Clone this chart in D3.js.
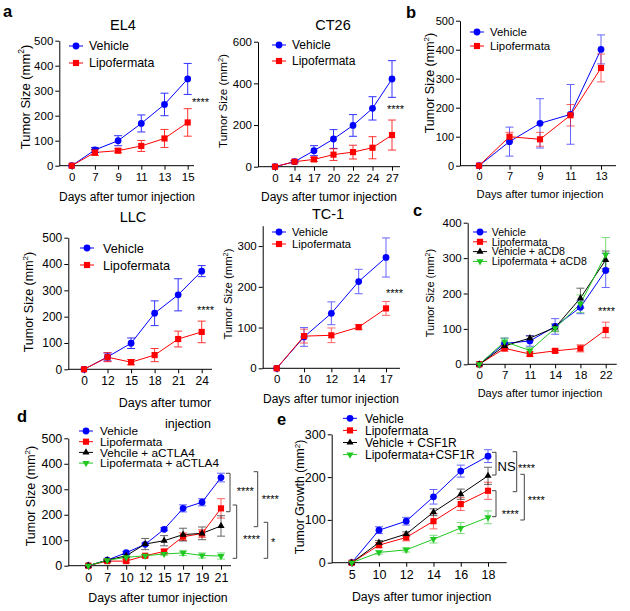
<!DOCTYPE html>
<html>
<head>
<meta charset="utf-8">
<script src="https://cdn.jsdelivr.net/npm/d3@7"></script>
<style>
  body { margin: 0; background: #fff; }
  svg text { font-family: "Liberation Sans", Arial, Helvetica, sans-serif; fill: #000; }
</style>
</head>
<body>
<svg id="fig" width="630" height="611"></svg>
<script>
// ---- data ----
const el4Days = ["0", "7", "9", "11", "13", "15"];
const el4Veh = [0, 63, 100, 169, 245, 347];
const el4VehErr = [0, 10, 20, 34, 45, 62];
const el4Lipo = [0, 53, 60, 79, 109, 173];
const el4LipoErr = [0, 12, 8, 22, 36, 55];

const ct26Days = ["0", "14", "17", "20", "22", "24", "27"];
const ct26Veh = [0, 24, 77, 133, 198, 280, 421];
const ct26VehErr = [0, 5, 24, 45, 52, 56, 88];
const ct26Lipo = [0, 24, 35, 58, 70, 91, 152];
const ct26LipoErr = [0, 5, 10, 28, 33, 53, 72];

const bDays = ["0", "7", "9", "11", "13"];
const bVeh = [0, 83, 146, 177, 401];
const bVehErr = [0, 50, 85, 103, 50];
const bLipo = [0, 100, 91, 174, 337];
const bLipoErr = [0, 15, 24, 37, 48];

const llcDays = ["0", "12", "15", "18", "21", "24"];
const llcVeh = [0, 47, 99, 213, 283, 373];
const llcVehErr = [0, 15, 20, 47, 61, 21];
const llcLipo = [0, 46, 27, 54, 115, 142];
const llcLipoErr = [0, 17, 10, 25, 30, 41];

const tc1Days = ["0", "10", "12", "14", "17"];
const tc1Veh = [0, 77, 135, 213, 272];
const tc1VehErr = [0, 23, 28, 30, 48];
const tc1Lipo = [0, 79, 81, 101, 147];
const tc1LipoErr = [0, 17, 18, 6, 17];

const cDays = ["0", "7", "11", "14", "18", "22"];
const cVeh = [0, 59, 66, 107, 161, 265];
const cVehErr = [0, 15, 15, 22, 18, 48];
const cLipo = [0, 45, 29, 38, 45, 97];
const cLipoErr = [0, 8, 6, 5, 10, 22];
const cVehCD8 = [0, 52, 74, 104, 187, 295];
const cVehCD8Err = [0, 8, 6, 10, 28, 25];
const cLipoCD8 = [0, 64, 39, 102, 171, 310];
const cLipoCD8Err = [0, 10, 8, 10, 25, 48];

const dDays = ["0", "7", "10", "12", "15", "17", "19", "21"];
const dVeh = [0, 22, 51, 84, 143, 225, 249, 346];
const dVehErr = [0, 4, 5, 5, 6, 14, 14, 17];
const dLipo = [0, 18, 18, 39, 56, 114, 126, 225];
const dLipoErr = [0, 5, 6, 5, 7, 15, 15, 38];
const dVehCTLA4 = [0, 22, 39, 85, 98, 122, 127, 156];
const dVehCTLA4Err = [0, 4, 5, 22, 20, 25, 25, 40];
const dLipoCTLA4 = [0, 21, 33, 39, 46, 50, 40, 38];
const dLipoCTLA4Err = [0, 3, 4, 5, 5, 10, 10, 12];

const eDays = ["5", "10", "12", "14", "16", "18"];
const eVeh = [0, 76, 97, 154, 214, 249];
const eVehErr = [0, 8, 9, 17, 14, 15];
const eLipo = [0, 41, 59, 97, 137, 168];
const eLipoErr = [0, 6, 8, 18, 15, 20];
const eVehCSF = [0, 47, 67, 118, 160, 203];
const eVehCSFErr = [0, 5, 5, 8, 12, 20];
const eLipoCSF = [0, 24, 30, 55, 81, 106];
const eLipoCSFErr = [0, 4, 5, 9, 13, 15];

const twoGroups = ["Vehicle", "Lipofermata"];
const cGroups = ["Vehicle", "Lipofermata", "Vehicle + aCD8", "Lipofermata + aCD8"];
const dGroups = ["Vehicle", "Lipofermata", "Vehcile + aCTLA4", "Lipofermata + aCTLA4"];
const eGroups = ["Vehicle", "Lipofermata", "Vehicle + CSF1R", "Lipofermata+CSF1R"];

// ---- styling ----
const BLUE = "#0000ff", RED = "#ff0000", BLACK = "#000000", GREEN = "#22c822";
const styles = [
  { color: BLUE, shape: d3.symbolCircle, size: 36, rot: 0 },
  { color: RED, shape: d3.symbolSquare, size: 38, rot: 0 },
  { color: BLACK, shape: d3.symbolTriangle, size: 22, rot: 0 },
  { color: GREEN, shape: d3.symbolTriangle, size: 22, rot: 180 },
];

const svg = d3.select("#fig");

function marker(g, st, cx, cy) {
  g.append("path")
    .attr("d", d3.symbol().type(st.shape).size(st.size)())
    .attr("transform", `translate(${cx},${cy}) rotate(${st.rot})`)
    .attr("fill", st.color);
}

function drawPanel(p) {
  const g = svg.append("g");
  const x = d3.scalePoint().domain(p.days).range([p.xFirst, p.xLast]);
  const y = d3.scaleLinear().domain([0, p.yMax]).range([p.yBot, p.yTop]);

  // axes
  const ya = g.append("g")
    .attr("transform", `translate(${p.axisX},0)`)
    .call(d3.axisLeft(y).tickValues(p.yTicks).tickSize(4).tickPadding(2).tickSizeOuter(0));
  const xa = g.append("g")
    .attr("transform", `translate(0,${p.yBot})`)
    .call(d3.axisBottom(x).tickSize(4).tickPadding(3));
  xa.select(".domain").remove();
  g.append("line")
    .attr("x1", p.axisX).attr("x2", p.xEnd)
    .attr("y1", p.yBot).attr("y2", p.yBot)
    .attr("stroke", "#000");
  [ya, xa].forEach((a) => {
    a.attr("font-size", p.tickFont);
    a.selectAll("line, path").attr("stroke", "#000");
  });

  const series = p.series.map((s, i) => ({
    ...styles[i],
    pts: p.days.map((d, j) => ({ d, v: s.vals[j], e: s.errs[j] })),
  }));

  // connecting lines
  const line = d3.line().x((d) => x(d.d)).y((d) => y(d.v));
  series.forEach((s) => {
    g.append("path").datum(s.pts)
      .attr("d", line)
      .attr("fill", "none")
      .attr("stroke", s.color)
      .attr("stroke-width", 1);
  });

  // error bars
  series.forEach((s) => {
    s.pts.filter((d) => d.e > 0).forEach((d) => {
      const cx = x(d.d), y1 = y(d.v + d.e), y2 = y(d.v - d.e);
      const eg = g.append("g").attr("stroke", s.color).attr("stroke-width", 1).attr("opacity", p.errOpacity || 0.6);
      eg.append("line").attr("x1", cx).attr("x2", cx).attr("y1", y1).attr("y2", y2);
      eg.append("line").attr("x1", cx - 4).attr("x2", cx + 4).attr("y1", y1).attr("y2", y1);
      eg.append("line").attr("x1", cx - 4).attr("x2", cx + 4).attr("y1", y2).attr("y2", y2);
    });
  });

  // markers
  series.forEach((s) => {
    s.pts.forEach((d) => marker(g, s, x(d.d), y(d.v)));
  });

  // legend
  p.series.forEach((s, i) => {
    const ly = p.legY[i];
    g.append("line")
      .attr("x1", p.legX - 7).attr("x2", p.legX + 7)
      .attr("y1", ly).attr("y2", ly)
      .attr("stroke", styles[i].color);
    marker(g, styles[i], p.legX, ly);
    g.append("text")
      .attr("x", p.legTextX).attr("y", ly)
      .attr("dy", "0.36em")
      .attr("font-size", p.legFont)
      .text(p.labels[i]);
  });

  // y-axis label with superscript
  const yl = g.append("text")
    .attr("transform", `translate(${p.yLabX},${p.yLabY}) rotate(-90)`)
    .attr("text-anchor", "middle")
    .attr("dy", "0.36em")
    .attr("font-size", p.yLabFont);
  yl.append("tspan").text(`${p.yLab} (mm`);
  yl.append("tspan").attr("font-size", p.yLabFont * 0.65).attr("dy", -p.yLabFont * 0.4).text("2");
  yl.append("tspan").attr("dy", p.yLabFont * 0.4).text(")");

  // x-axis label (possibly several lines)
  p.xLab.forEach((l) => {
    g.append("text")
      .attr("x", l.x).attr("y", l.y)
      .attr("text-anchor", "middle")
      .attr("font-size", p.xLabFont)
      .text(l.text);
  });

  if (p.title) {
    g.append("text")
      .attr("x", p.title.x).attr("y", p.title.y)
      .attr("text-anchor", "middle")
      .attr("font-size", 14.5)
      .text(p.title.text);
  }

  (p.stars || []).forEach((st) => {
    g.append("text")
      .attr("x", st.x).attr("y", st.y + 6)
      .attr("font-size", st.size || 11)
      .text(st.text || "****");
  });

  (p.brackets || []).forEach((b) => {
    g.append("path")
      .attr("d", `M${b.x - 4},${b.y1}H${b.x}V${b.y2}H${b.x - 4}`)
      .attr("fill", "none")
      .attr("stroke", "#444")
      .attr("stroke-width", 1);
  });
}

const yT500 = [0, 100, 200, 300, 400, 500];

drawPanel({
  days: el4Days, yMax: 500, yTicks: yT500,
  axisX: 59.3, yTop: 40.7, yBot: 165.7, xFirst: 71.7, xLast: 187.7, xEnd: 194, tickFont: 11.5,
  series: [{ vals: el4Veh, errs: el4VehErr }, { vals: el4Lipo, errs: el4LipoErr }],
  labels: twoGroups, legX: 76, legTextX: 89, legY: [46, 63], legFont: 12.4, errOpacity: 0.8,
  yLab: "Tumor Size", yLabX: 25, yLabY: 97, yLabFont: 13,
  xLab: [{ text: "Days after tumor injection", x: 127, y: 201 }], xLabFont: 12,
  title: { text: "EL4", x: 123, y: 30 },
  stars: [{ x: 192, y: 100 }],
});

drawPanel({
  days: ct26Days, yMax: 600, yTicks: [0, 200, 400, 600],
  axisX: 258, yTop: 41.7, yBot: 166.7, xFirst: 275, xLast: 392, xEnd: 400, tickFont: 11.5,
  series: [{ vals: ct26Veh, errs: ct26VehErr }, { vals: ct26Lipo, errs: ct26LipoErr }],
  labels: twoGroups, legX: 279, legTextX: 292, legY: [45, 61], legFont: 12, errOpacity: 0.8,
  yLab: "Tumor Size", yLabX: 223, yLabY: 101, yLabFont: 11.7,
  xLab: [{ text: "Days after tumor injection", x: 329, y: 201 }], xLabFont: 12,
  title: { text: "CT26", x: 333, y: 30 },
  stars: [{ x: 387, y: 107 }],
});

drawPanel({
  days: bDays, yMax: 500, yTicks: yT500,
  axisX: 460, yTop: 20.7, yBot: 165.7, xFirst: 479, xLast: 601, xEnd: 616, tickFont: 11,
  series: [{ vals: bVeh, errs: bVehErr }, { vals: bLipo, errs: bLipoErr }],
  labels: twoGroups, legX: 477, legTextX: 490, legY: [32, 46], legFont: 11.4,
  yLab: "Tumor Size", yLabX: 429, yLabY: 83, yLabFont: 12.5,
  xLab: [{ text: "Days after tumor injection", x: 540, y: 198 }], xLabFont: 11.2,
});

drawPanel({
  days: llcDays, yMax: 500, yTicks: yT500,
  axisX: 68.3, yTop: 237.7, yBot: 369.3, xFirst: 84, xLast: 201.7, xEnd: 212, tickFont: 12,
  series: [{ vals: llcVeh, errs: llcVehErr }, { vals: llcLipo, errs: llcLipoErr }],
  labels: twoGroups, legX: 87, legTextX: 103, legY: [248, 265], legFont: 12.7, errOpacity: 0.8,
  yLab: "Tumor Size", yLabX: 28, yLabY: 302, yLabFont: 12.5,
  xLab: [
    { text: "Days after tumor", x: 165, y: 407 },
    { text: "injection", x: 188, y: 428 },
  ], xLabFont: 12.5,
  title: { text: "LLC", x: 133, y: 222 },
  stars: [{ x: 197, y: 308 }],
});

drawPanel({
  days: tc1Days, yMax: 350, yTicks: [0, 100, 200, 300],
  axisX: 262.7, yTop: 225.7, yBot: 368.3, xFirst: 276.7, xLast: 386, xEnd: 400, tickFont: 11.5,
  series: [{ vals: tc1Veh, errs: tc1VehErr }, { vals: tc1Lipo, errs: tc1LipoErr }],
  labels: twoGroups, legX: 279, legTextX: 292, legY: [232, 244], legFont: 11.2,
  yLab: "Tumor Size", yLabX: 228, yLabY: 294, yLabFont: 11.3,
  xLab: [{ text: "Days after tumor injection", x: 331, y: 403 }], xLabFont: 12,
  title: { text: "TC-1", x: 328, y: 219 },
  stars: [{ x: 386, y: 290.7 }],
});

drawPanel({
  days: cDays, yMax: 400, yTicks: [0, 100, 200, 300, 400],
  axisX: 467.7, yTop: 222.7, yBot: 364.3, xFirst: 479.3, xLast: 605.7, xEnd: 616.7, tickFont: 11.5,
  series: [
    { vals: cVeh, errs: cVehErr }, { vals: cLipo, errs: cLipoErr },
    { vals: cVehCD8, errs: cVehCD8Err }, { vals: cLipoCD8, errs: cLipoCD8Err },
  ],
  labels: cGroups, legX: 480, legTextX: 491.7, legY: [232, 241.8, 251.6, 261.4], legFont: 10.6,
  yLab: "Tumor Size", yLabX: 430, yLabY: 293, yLabFont: 11,
  xLab: [{ text: "Days after tumor injection", x: 540, y: 397 }], xLabFont: 11,
  stars: [{ x: 598, y: 309 }],
});

drawPanel({
  days: dDays, yMax: 500, yTicks: yT500,
  axisX: 68.3, yTop: 438.3, yBot: 565.7, xFirst: 88.3, xLast: 221, xEnd: 231, tickFont: 12.5,
  series: [
    { vals: dVeh, errs: dVehErr }, { vals: dLipo, errs: dLipoErr },
    { vals: dVehCTLA4, errs: dVehCTLA4Err }, { vals: dLipoCTLA4, errs: dLipoCTLA4Err },
  ],
  labels: dGroups, legX: 86, legTextX: 100, legY: [431, 441.7, 452.4, 463.1], legFont: 11.8,
  yLab: "Tumor Size", yLabX: 30, yLabY: 496, yLabFont: 12.5,
  xLab: [{ text: "Days after tumor injection", x: 158, y: 602 }], xLabFont: 12.3,
  stars: [
    { x: 236.7, y: 489 }, { x: 261.7, y: 496.7 },
    { x: 243, y: 536.7 }, { x: 271, y: 540, text: "*" },
  ],
  brackets: [
    { x: 230, y1: 473.3, y2: 511.7 }, { x: 257.7, y1: 471.7, y2: 526.7 },
    { x: 236.7, y1: 505, y2: 558.3 }, { x: 267.7, y1: 522.3, y2: 558.3 },
  ],
});

drawPanel({
  days: eDays, yMax: 300, yTicks: [0, 100, 200, 300],
  axisX: 331.7, yTop: 434.3, yBot: 562.7, xFirst: 351.7, xLast: 488, xEnd: 506.7, tickFont: 12.5,
  series: [
    { vals: eVeh, errs: eVehErr }, { vals: eLipo, errs: eLipoErr },
    { vals: eVehCSF, errs: eVehCSFErr }, { vals: eLipoCSF, errs: eLipoCSFErr },
  ],
  labels: eGroups, legX: 350, legTextX: 365, legY: [418.3, 430.4, 442.5, 454.6], legFont: 12,
  yLab: "Tumor Growth", yLabX: 300, yLabY: 497, yLabFont: 12.3,
  xLab: [{ text: "Days after tumor injection", x: 421.7, y: 601 }], xLabFont: 12.3,
  stars: [
    { x: 497.5, y: 465, text: "NS", size: 13 }, { x: 518, y: 466 },
    { x: 501.7, y: 511.7 }, { x: 527.7, y: 498.3 },
  ],
  brackets: [
    { x: 496, y1: 452.3, y2: 475 }, { x: 516.7, y1: 451.7, y2: 491.7 },
    { x: 496, y1: 490.7, y2: 516.7 }, { x: 524.3, y1: 474.3, y2: 520 },
  ],
});

// panel letters
const panelLetters = ["a", "b", "c", "d", "e"];
const letterPos = [[3, 17], [406, 18], [413, 216], [17, 422], [277, 425]];
svg.selectAll(".panel-letter")
  .data(panelLetters)
  .join("text")
  .attr("class", "panel-letter")
  .attr("x", (d, i) => letterPos[i][0])
  .attr("y", (d, i) => letterPos[i][1])
  .attr("font-size", 16.5)
  .attr("font-weight", "bold")
  .text((d) => d);
</script>
</body>
</html>
